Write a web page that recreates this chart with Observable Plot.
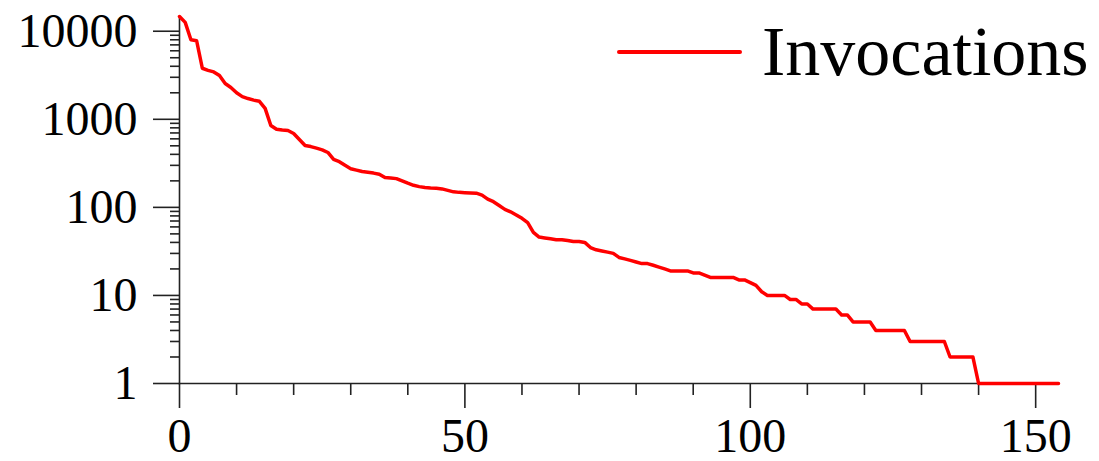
<!DOCTYPE html>
<html>
<head>
<meta charset="utf-8">
<script src="https://cdn.jsdelivr.net/npm/d3@7"></script>
<script src="https://cdn.jsdelivr.net/npm/@observablehq/plot@0.6"></script>
<style>
  body { margin: 0; background: #fff; }
  #wrap { position: relative; width: 1099px; height: 461px; overflow: hidden; }
  #legend { position: absolute; left: 617px; top: 17px; display: flex; align-items: center;
            font-family: "Liberation Serif", "Times New Roman", serif; font-size: 70px; line-height: 70px; color: #000; }
  #legend .swatch { width: 125px; height: 4px; background: #ff0000; border-radius: 2px; margin-right: 20px; }
</style>
</head>
<body>
<div id="wrap"></div>
<script>
// Invocation counts, sorted in descending order (one value per rank 0..154)
const invocations = [
  14700, 12600, 8000, 7800, 3800, 3600, 3450, 3140, 2550, 2300,
  2000, 1810, 1720, 1650, 1600, 1330, 850, 770, 755, 745,
  690, 590, 505, 490, 470, 450, 420, 350, 330, 300,
  275, 265, 255, 250, 245, 238, 218, 216, 212, 200,
  188, 178, 172, 168, 166, 165, 162, 156, 150, 148,
  147, 146, 145, 138, 124, 116, 105, 95, 89, 82,
  75, 67, 52, 46, 45, 44, 43, 43, 42, 41,
  41, 40, 35, 33, 32, 31, 30, 27, 26, 25,
  24, 23, 23, 22, 21, 20, 19, 19, 19, 19,
  18, 18, 17, 16, 16, 16, 16, 16, 15, 15,
  14, 13, 11, 10, 10, 10, 10, 9, 9, 8,
  8, 7, 7, 7, 7, 7, 6, 6, 5, 5,
  5, 5, 4, 4, 4, 4, 4, 4, 3, 3,
  3, 3, 3, 3, 3, 2, 2, 2, 2, 2,
  1, 1, 1, 1, 1, 1, 1, 1, 1, 1,
  1, 1, 1, 1, 1
];
const seriesName = "Invocations";
const xMajorTicks = [0, 50, 100, 150];
const xMinorTicks = [10, 20, 30, 40, 60, 70, 80, 90, 110, 120, 130, 140];
const yMajorTicks = [1, 10, 100, 1000, 10000];
const yMinorTicks = [2,3,4,5,6,7,8,9, 20,30,40,50,60,70,80,90, 200,300,400,500,600,700,800,900, 2000,3000,4000,5000,6000,7000,8000,9000];

const tickColor = "#222";
const tickWidth = 1.6;

const chart = Plot.plot({
  width: 1099,
  height: 461,
  marginLeft: 179,
  marginRight: 41,
  marginTop: 16,
  marginBottom: 78,
  style: { fontFamily: "'Liberation Serif', 'Times New Roman', serif", fontSize: "48px", color: "#000", background: "#fff" },
  x: { domain: [0, invocations.length - 1], axis: null },
  y: { type: "log", domain: [1, d3.max(invocations)], axis: null },
  marks: [
    Plot.axisY(yMinorTicks, { tickSize: 9, tickFormat: null, text: null, stroke: tickColor, strokeWidth: tickWidth, label: null }),
    Plot.axisY(yMajorTicks, { tickSize: 26, tickPadding: 16, tickFormat: d => String(d), stroke: tickColor, strokeWidth: tickWidth, fill: "#000", label: null }),
    Plot.axisX(xMinorTicks, { tickSize: 12, tickFormat: null, text: null, stroke: tickColor, strokeWidth: tickWidth, label: null }),
    Plot.axisX(xMajorTicks, { tickSize: 25, tickPadding: 9, tickFormat: d => String(d), stroke: tickColor, strokeWidth: tickWidth, fill: "#000", label: null }),
    Plot.frame({ anchor: "left", stroke: tickColor, strokeWidth: tickWidth }),
    Plot.frame({ anchor: "bottom", stroke: tickColor, strokeWidth: tickWidth }),
    Plot.line(invocations, { x: (d, i) => i, y: d => d, stroke: "#ff0000", strokeWidth: 3.5, strokeLinejoin: "round", strokeLinecap: "round" })
  ]
});

const wrap = document.getElementById("wrap");
wrap.appendChild(chart);
const legend = document.createElement("div");
legend.id = "legend";
legend.innerHTML = `<span class="swatch"></span><span>${seriesName}</span>`;
wrap.appendChild(legend);
</script>
</body>
</html>
